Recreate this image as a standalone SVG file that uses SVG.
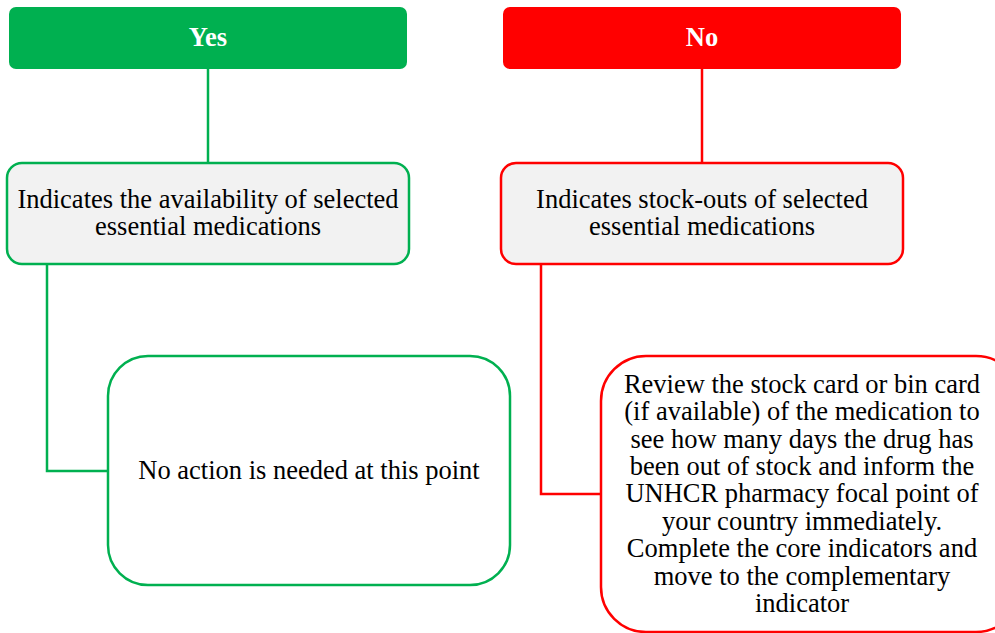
<svg xmlns="http://www.w3.org/2000/svg" width="995" height="633" viewBox="0 0 995 633">
<style>
text{font-family:'Liberation Serif','Times New Roman','DejaVu Serif',serif;font-size:26.5px;fill:#000;text-anchor:middle}
.hdr{font-weight:bold;fill:#fff}
.g{stroke:#00B050;stroke-width:2.5;fill:none}
.r{stroke:#FF0000;stroke-width:2.5;fill:none}
.box{fill:#F2F2F2;stroke-width:2.5}
</style>
<rect width="995" height="633" fill="#fff"/>
<g id="connectors">
<path class="g" d="M208 69V163"/>
<path class="r" d="M702 69V163"/>
<path class="g" d="M47 264V471H108"/>
<path class="r" d="M541 264V494H601"/>
</g>
<g id="yes">
<rect x="9" y="7" width="398" height="62" rx="7" fill="#00B050"/>
<text class="hdr" x="208" y="46">Yes</text>
</g>
<g id="no">
<rect x="503" y="7" width="398" height="62" rx="7" fill="#FF0000"/>
<text class="hdr" x="702" y="46">No</text>
</g>
<g id="availability">
<rect class="box" x="7" y="163" width="402" height="101" rx="15" stroke="#00B050"/>
<text x="208" y="208">Indicates the availability of selected</text>
<text x="208" y="235">essential medications</text>
</g>
<g id="stockouts">
<rect class="box" x="501" y="163" width="402" height="101" rx="15" stroke="#FF0000"/>
<text x="702" y="208">Indicates stock-outs of selected</text>
<text x="702" y="235">essential medications</text>
</g>
<g id="noaction">
<rect x="108" y="356" width="402" height="229" rx="40" fill="#fff" stroke="#00B050" stroke-width="2.5"/>
<text x="309" y="479">No action is needed at this point</text>
</g>
<g id="review">
<rect x="601" y="356" width="420" height="276" rx="45" fill="#fff" stroke="#FF0000" stroke-width="2.5"/>
<text x="802" y="393">Review the stock card or bin card</text>
<text x="802" y="420">(if available) of the medication to</text>
<text x="802" y="448">see how many days the drug has</text>
<text x="802" y="475">been out of stock and inform the</text>
<text x="802" y="502">UNHCR pharmacy focal point of</text>
<text x="802" y="530">your country immediately.</text>
<text x="802" y="557">Complete the core indicators and</text>
<text x="802" y="585">move to the complementary</text>
<text x="802" y="612">indicator</text>
</g>
</svg>
